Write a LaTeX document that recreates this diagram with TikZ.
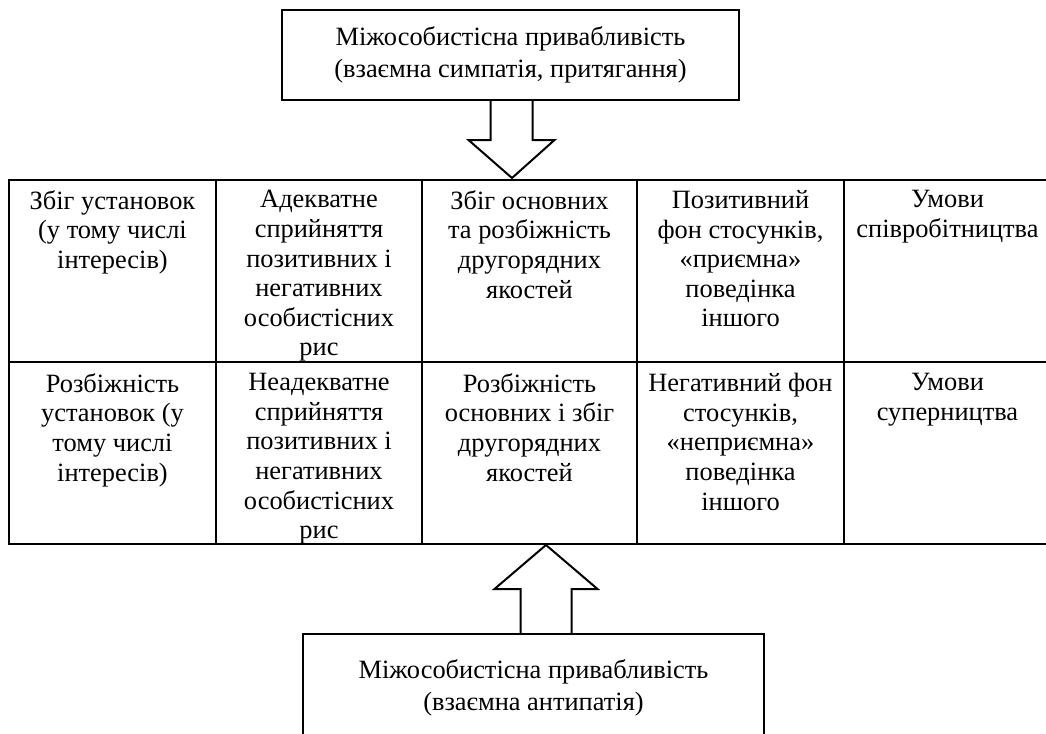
\documentclass[tikz,border=0pt]{standalone}
\usepackage{fontspec}
\setmainfont{Liberation Serif}
\usetikzlibrary{calc}

\begin{document}
\begin{tikzpicture}[x=0.5pt,y=-0.5pt,
	box/.style={draw,line width=1pt,rectangle,inner sep=0pt,align=center,font=\fontsize{13.2}{16}\selectfont},
	cell/.style={draw,line width=1pt,rectangle,inner sep=0pt,minimum height=91pt},
	celltext/.style={anchor=north,align=center,inner sep=0pt,font=\fontsize{13.2}{14.8}\selectfont},
	blockarrow/.style={draw,line width=1pt,line join=miter}]
	\useasboundingbox (0,0) rectangle (1046,734);
	\clip (0,0) rectangle (1046,734);
	\node[box,minimum width=228.5pt,minimum height=45pt] (top) at (510.5,55) {Міжособистісна привабливість\\(взаємна симпатія, притягання)};
	\node[box,minimum width=230.5pt,minimum height=54pt] (bot) at (533.5,688) {Міжособистісна привабливість\\(взаємна антипатія)};
	\node[cell,minimum width=103.5pt] (r1c1) at (112.5,271) {};
	\node[cell,minimum width=103pt] (r1c2) at (319,271) {};
	\node[cell,minimum width=107.5pt] (r1c3) at (529.5,271) {};
	\node[cell,minimum width=103.5pt] (r1c4) at (740.5,271) {};
	\node[cell,minimum width=103.5pt] (r1c5) at (947.5,271) {};
	\node[cell,minimum width=103.5pt] (r2c1) at (112.5,453) {};
	\node[cell,minimum width=103pt] (r2c2) at (319,453) {};
	\node[cell,minimum width=107.5pt] (r2c3) at (529.5,453) {};
	\node[cell,minimum width=103.5pt] (r2c4) at (740.5,453) {};
	\node[cell,minimum width=103.5pt] (r2c5) at (947.5,453) {};
	\node[celltext] (t11) at ($(r1c1.north)+(0,11)$) {Збіг установок\\(у тому числі\\інтересів)};
	\node[celltext] (t12) at ($(r1c2.north)+(0,11)$) {Адекватне\\сприйняття\\позитивних і\\негативних\\особистісних\\рис};
	\node[celltext] (t13) at ($(r1c3.north)+(0,11)$) {Збіг основних\\та розбіжність\\другорядних\\якостей};
	\node[celltext] (t14) at ($(r1c4.north)+(0,11)$) {Позитивний\\фон стосунків,\\«приємна»\\поведінка\\іншого};
	\node[celltext] (t15) at ($(r1c5.north)+(0,11)$) {Умови\\співробітництва};
	\node[celltext] (t21) at ($(r2c1.north)+(0,12)$) {Розбіжність\\установок (у\\тому числі\\інтересів)};
	\node[celltext] (t22) at ($(r2c2.north)+(0,12)$) {Неадекватне\\сприйняття\\позитивних і\\негативних\\особистісних\\рис};
	\node[celltext] (t23) at ($(r2c3.north)+(0,12)$) {Розбіжність\\основних і збіг\\другорядних\\якостей};
	\node[celltext] (t24) at ($(r2c4.north)+(0,12)$) {Негативний фон\\стосунків,\\«неприємна»\\поведінка\\іншого};
	\node[celltext] (t25) at ($(r2c5.north)+(0,12)$) {Умови\\суперництва};
	\coordinate (uptip) at (546,545);
	\draw[blockarrow] ($(top.south)+(-20,0)$) -- ++(0,39) -- ++(-22,0) -- ($(top.south)+(1.5,77)$) -- ($(top.south)+(44,39)$) -- ++(-22,0) -- ($(top.south)+(22,0)$);
	\draw[blockarrow] ($(uptip)+(-25.5,89)$) -- ++(0,-45) -- ++(-26,0) -- (uptip) -- ($(uptip)+(51.5,44)$) -- ++(-26,0) -- ++(0,45);
\end{tikzpicture}
\end{document}
